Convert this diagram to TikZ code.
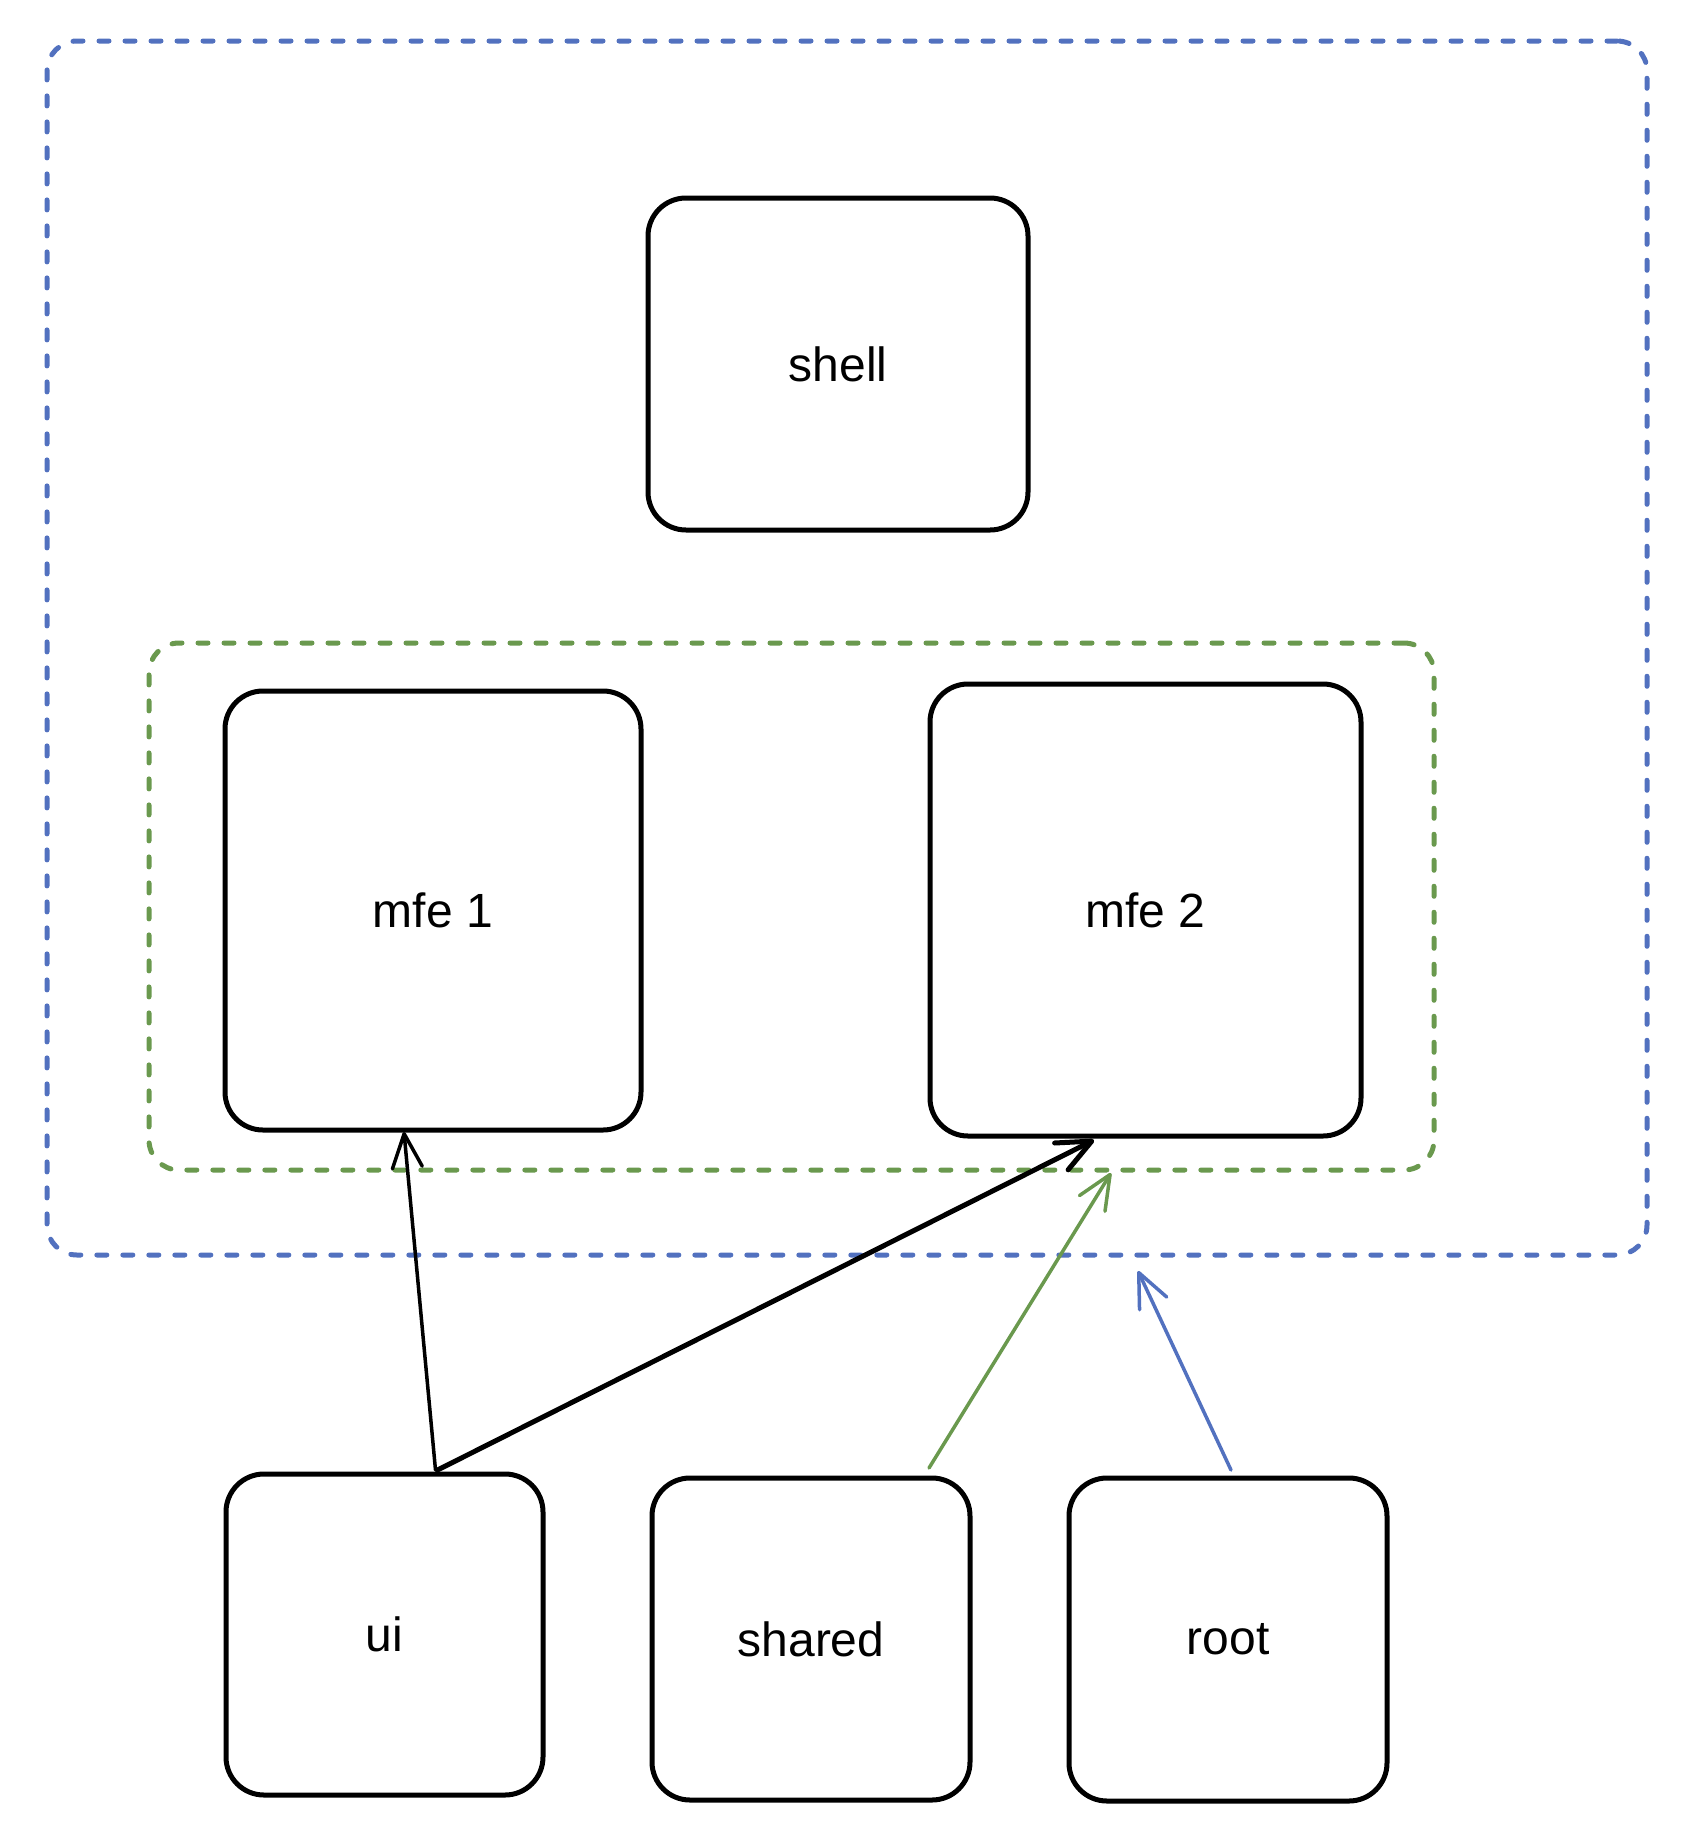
\documentclass[tikz,border=0pt]{standalone}
\usepackage{fontspec}
\setmainfont{Liberation Sans}
\usetikzlibrary{arrows.meta,calc}
\definecolor{groupblue}{RGB}{82,113,191}
\definecolor{groupgreen}{RGB}{106,153,78}
\begin{document}
\begin{tikzpicture}[x=1pt,y=-1pt,
  every node/.style={inner sep=0pt,outer sep=0pt},
  box/.style={draw=black,line width=5pt,rounded corners=38pt,
    font=\fontsize{48}{58}\selectfont},
  group/.style={draw=#1,line width=5pt,rounded corners=30pt,
    dash pattern=on 10pt off 16pt,line cap=round},
  link/.style={line width=#1,line cap=round,
    -{Straight Barb[length=34pt,width=30pt,round]}}]
\useasboundingbox (0,0) rectangle (1686,1840);

% dashed groups
\node[group=groupblue,minimum width=1600pt,minimum height=1214pt] (outer) at (847,648) {};
\node[group=groupgreen,minimum width=1285pt,minimum height=527pt] (mfes) at (791.5,906.5) {};

% packages
\node[box,minimum width=380pt,minimum height=332pt] (shell) at (838,364) {\raisebox{-4pt}{shell}};
\node[box,minimum width=416pt,minimum height=439pt] (mfe1) at (433,910.5) {mfe 1};
\node[box,minimum width=431pt,minimum height=452pt] (mfe2) at (1145.5,910) {mfe 2};
\node[box,minimum width=317pt,minimum height=321pt] (ui) at (384.5,1634.5) {ui};
\node[box,minimum width=318pt,minimum height=322pt] (shared) at (811,1639) {shared};
\node[box,minimum width=318pt,minimum height=323pt] (root) at (1228,1639.5) {root};

% dependencies
\draw[link=3.5pt,black] ($(ui.north)+(51,-4)$) -- ($(mfe1.south)+(-29,2)$);
\draw[link=5pt,black] ($(ui.north)+(53,-4)$) -- ($(mfe2.south)+(-51.5,4)$);
\draw[link=3.5pt,groupgreen] ($(shared.north)+(118,-10)$) -- ($(mfes.south)+(319.5,3)$);
\draw[link=3.5pt,groupblue] ($(root.north)+(3,-8)$) -- ($(outer.south)+(291,16)$);
\end{tikzpicture}
\end{document}
